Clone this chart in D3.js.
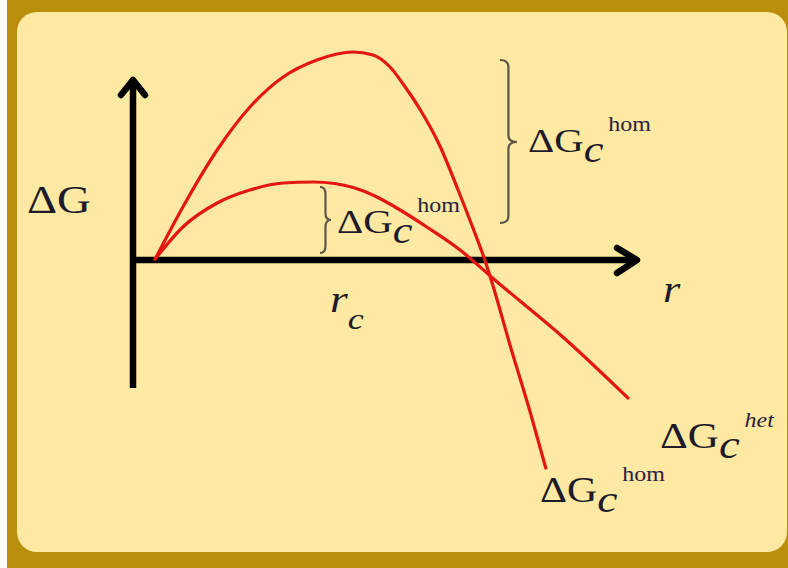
<!DOCTYPE html>
<html>
<head>
<meta charset="utf-8">
<script src="https://cdn.jsdelivr.net/npm/d3@7"></script>
<style>
  html, body { margin: 0; padding: 0; background: #fff; }
  svg { display: block; }
  .lbl { font-family: "Liberation Serif", "Times New Roman", serif; fill: #1d1a2b; }
</style>
</head>
<body>
<div id="chart"></div>
<script>
// schematic free energy curves, r in arbitrary units, dG in arbitrary units
const homR = [0.44, 0.99, 1.67, 2.32, 2.98, 3.65, 4.37, 4.76, 5.10, 5.40, 5.69, 6.09, 6.45, 6.73, 6.98, 7.12, 7.48, 7.88, 8.19];
const homG = [0.02, 1.06, 2.20, 3.06, 3.66, 4.00, 4.16, 4.10, 3.86, 3.46, 3.02, 2.28, 1.40, 0.68, 0.00, -0.44, -1.70, -3.04, -4.16];
const hetR = [0.44, 0.99, 1.67, 2.32, 2.98, 3.57, 4.00, 4.37, 4.80, 5.20, 5.83, 6.49, 7.18, 8.53, 9.82];
const hetG = [0.02, 0.66, 1.14, 1.40, 1.54, 1.56, 1.53, 1.45, 1.28, 1.06, 0.66, 0.20, -0.40, -1.54, -2.76];

// barrier braces: [r, top dG, bottom dG, tip dG]
const bigBrace = [7.28, 4.00, 0.74, 2.36];
const smallBrace = [3.71, 1.46, 0.14, 0.80];

const width = 788, height = 568;

const svg = d3.select('#chart')
    .append('svg')
    .attr('width', width)
    .attr('height', height);

// frame
svg.append('rect')
    .attr('x', 7).attr('y', 0)
    .attr('width', 781).attr('height', 568)
    .attr('fill', '#b98e0b');
svg.append('rect')
    .attr('x', 17).attr('y', 12)
    .attr('width', 770).attr('height', 540)
    .attr('rx', 20).attr('ry', 20)
    .attr('fill', '#fde9a1');

const xScale = d3.scaleLinear().domain([0, 10]).range([133, 637]);
const yScale = d3.scaleLinear().domain([-2.56, 3.6]).range([388, 80]);

// axes (no ticks, just the thick lines)
const xAxis = d3.axisBottom(xScale).tickValues([]).tickSizeOuter(0);
const yAxis = d3.axisLeft(yScale).tickValues([]).tickSizeOuter(0);

svg.append('g')
    .attr('class', 'x-axis')
    .attr('transform', `translate(0,${yScale(0)})`)
    .call(xAxis)
    .call(g => g.select('.domain').attr('stroke', '#000').attr('stroke-width', 6.5)
        .attr('d', `M${xScale(-0.06)},0H${xScale(10)}`));

svg.append('g')
    .attr('class', 'y-axis')
    .attr('transform', `translate(${xScale(0)},0)`)
    .call(yAxis)
    .call(g => g.select('.domain').attr('stroke', '#000').attr('stroke-width', 6.5)
        .attr('d', `M0,${yScale(-2.56)}V${yScale(3.6)}`));

// arrow heads
const arrow = d3.line();
svg.append('path')
    .attr('d', arrow([[xScale(0) - 12, yScale(3.6) + 15], [xScale(0), yScale(3.6)], [xScale(0) + 12, yScale(3.6) + 15]]))
    .attr('fill', 'none').attr('stroke', '#000').attr('stroke-width', 6.5)
    .attr('stroke-linecap', 'round').attr('stroke-linejoin', 'round');
svg.append('path')
    .attr('d', arrow([[xScale(10) - 20, yScale(0) - 12], [xScale(10), yScale(0)], [xScale(10) - 20, yScale(0) + 13]]))
    .attr('fill', 'none').attr('stroke', '#000').attr('stroke-width', 6.5)
    .attr('stroke-linecap', 'round').attr('stroke-linejoin', 'round');

// curves
const line = d3.line()
    .x(d => xScale(d[0]))
    .y(d => yScale(d[1]))
    .curve(d3.curveMonotoneX);

[[homR, homG], [hetR, hetG]].forEach(([rs, gs]) => {
    svg.append('path')
        .datum(rs.map((r, i) => [r, gs[i]]))
        .attr('d', line)
        .attr('fill', 'none')
        .attr('stroke', '#e3170f')
        .attr('stroke-width', 3.2)
        .attr('stroke-linecap', 'round');
});

// braces
function brace(b, depth) {
    const x0 = xScale(b[0]), y0 = yScale(b[1]), y1 = yScale(b[2]), ym = yScale(b[3]);
    const xm = x0 + depth * 0.5, xt = x0 + depth, r = 7;
    const p = d3.path();
    p.moveTo(x0, y0);
    p.quadraticCurveTo(xm, y0, xm, y0 + r);
    p.lineTo(xm, ym - r);
    p.quadraticCurveTo(xm, ym, xt, ym);
    p.quadraticCurveTo(xm, ym, xm, ym + r);
    p.lineTo(xm, y1 - r);
    p.quadraticCurveTo(xm, y1, x0, y1);
    svg.append('path')
        .attr('d', p.toString())
        .attr('fill', 'none')
        .attr('stroke', '#5e5648')
        .attr('stroke-width', 2.2);
}
brace(bigBrace, 17);
brace(smallBrace, 11);

// labels (source slide is stretched horizontally)
const SX = 1.2;
function deltaLabel(x, y, size, sup, supItalic) {
    const g = svg.append('g').attr('transform', `translate(${x},${y}) scale(${SX},1)`);
    const main = g.append('text').attr('class', 'lbl')
        .style('font-size', size + 'px').text('ΔG');
    const w = main.node().getComputedTextLength();
    const sub = g.append('text').attr('class', 'lbl')
        .attr('x', w).attr('y', 10)
        .style('font-size', (size + 3) + 'px').style('font-style', 'italic')
        .text('c');
    const w2 = sub.node().getComputedTextLength();
    g.append('text').attr('class', 'lbl')
        .attr('x', w + w2 + 4).attr('y', -21)
        .style('font-size', '20px')
        .style('font-style', supItalic ? 'italic' : 'normal')
        .style('fill', '#2a2142')
        .text(sup);
}

svg.append('text').attr('class', 'lbl')
    .attr('transform', `translate(27,213) scale(${SX},1)`)
    .style('font-size', '39px')
    .text('ΔG');

deltaLabel(528, 152, 34, 'hom', false);
deltaLabel(337, 233, 34, 'hom', false);
deltaLabel(660, 448, 36, 'het', true);
deltaLabel(540, 502, 35, 'hom', false);

svg.append('text').attr('class', 'lbl')
    .attr('transform', `translate(663,302) scale(${SX},1)`)
    .style('font-size', '37px').style('font-style', 'italic')
    .text('r');

const rc = svg.append('g').attr('transform', `translate(330,312) scale(${SX},1)`);
const rcMain = rc.append('text').attr('class', 'lbl')
    .style('font-size', '38px').style('font-style', 'italic').text('r');
rc.append('text').attr('class', 'lbl')
    .attr('x', rcMain.node().getComputedTextLength()).attr('y', 17)
    .style('font-size', '30px').style('font-style', 'italic').text('c');
</script>
</body>
</html>
